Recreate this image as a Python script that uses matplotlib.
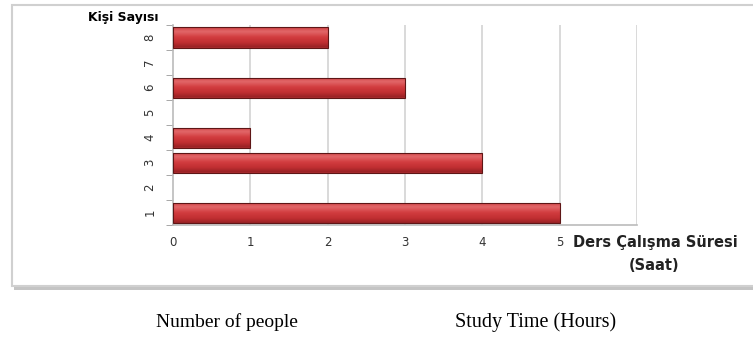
import numpy as np
import matplotlib.pyplot as plt
from matplotlib.patches import Rectangle
from matplotlib.colors import LinearSegmentedColormap

# study time (hours) for each group of people
people = [1, 2, 3, 4, 5, 6, 7, 8]
hours = [5, 0, 4, 1, 0, 3, 0, 2]
x_ticks = [0, 1, 2, 3, 4, 5]

W, H = 753, 342
fig = plt.figure(figsize=(W / 100, H / 100), dpi=100)


def fx(px):
    return px / W


def fy(py):
    return 1 - py / H


# chart frame with a soft shadow along the bottom
fig.patches.append(Rectangle((fx(14), fy(290)), fx(760) - fx(14), fy(286) - fy(290),
                             transform=fig.transFigure, facecolor="#c4c4c4",
                             edgecolor="none", zorder=0))
fig.patches.append(Rectangle((fx(12), fy(286)), fx(760) - fx(12), fy(5) - fy(286),
                             transform=fig.transFigure, facecolor="white",
                             edgecolor="#d0d0d0", linewidth=1.5, zorder=1))

ax = fig.add_axes([fx(173), fy(225), fx(637) - fx(173), fy(25) - fy(225)])
ax.set_zorder(2)

# vertical shading for the cylinder-like bars
shade = LinearSegmentedColormap.from_list(
    "bar", ["#8e1f22", "#c02e31", "#d23c3f", "#e2686a", "#c93437"])
grad = np.linspace(0, 1, 64).reshape(-1, 1)

bh = 0.8
for p, h in zip(people, hours):
    if h <= 0:
        continue
    base = ax.barh(p, h, height=bh, color="#a82a2d", edgecolor="none", zorder=3)[0]
    img = ax.imshow(grad, cmap=shade, aspect="auto", origin="lower",
                    extent=(0, h, p - bh / 2 - 0.05, p + bh / 2 + 0.05),
                    zorder=3.5, interpolation="bicubic")
    img.set_clip_path(base)
    ax.barh(p, h, height=bh, facecolor="none", edgecolor="#5e1616", linewidth=0.8, zorder=4)

ax.set_xlim(0, 6)
ax.set_ylim(0.5, 8.5)
ax.set_aspect("auto")
ax.set_xticks(x_ticks)
ax.set_xticklabels([str(t) for t in x_ticks], fontsize=8.5, color="#333333")
ax.set_yticks(people)
ax.set_yticklabels([str(p) for p in people], rotation=90, fontsize=8.5,
                   color="#333333", va="center")
ax.set_yticks([p + 0.5 for p in range(0, 9)], minor=True)
ax.tick_params(axis="y", which="major", length=0, pad=12)
ax.tick_params(axis="y", which="minor", length=5, color="#999999", direction="out")
ax.tick_params(axis="x", length=0, pad=8)

for v in range(1, 7):
    ax.axvline(v, color="#d3d3d3", linewidth=1.2, zorder=1)

for side in ["top", "right"]:
    ax.spines[side].set_visible(False)
for side in ["left", "bottom"]:
    ax.spines[side].set_color("#bbbbbb")
    ax.spines[side].set_linewidth(1.2)

fig.text(fx(88), fy(17), "Kişi Sayısı", fontsize=9, fontweight="bold", va="center")
fig.text(fx(655), fy(242), "Ders Çalışma Süresi", fontsize=10.5, fontweight="bold",
         ha="center", va="center", color="#222222")
fig.text(fx(654), fy(265), "(Saat)", fontsize=10.5, fontweight="bold",
         ha="center", va="center", color="#222222")

fig.text(fx(227), fy(322), "Number of people", fontsize=14, family="Liberation Serif",
         ha="center", va="center")
fig.text(fx(536), fy(322), "Study Time (Hours)", fontsize=14.5, family="Liberation Serif",
         ha="center", va="center")

fig.savefig("out.png", dpi=100)
